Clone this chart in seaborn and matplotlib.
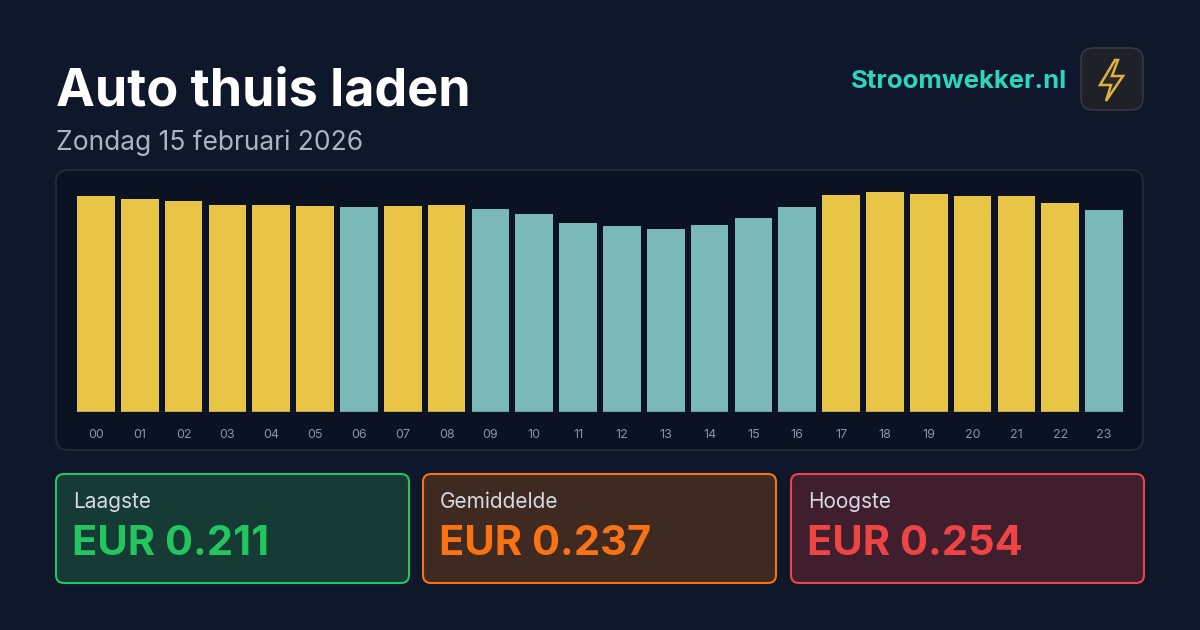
import matplotlib
matplotlib.use("Agg")
import matplotlib.pyplot as plt
import seaborn as sns
import pandas as pd
from matplotlib.patches import FancyBboxPatch, Polygon

hours = [f"{h:02d}" for h in range(24)]
prices = [0.249, 0.246, 0.2435, 0.239, 0.239, 0.238, 0.2365, 0.238, 0.239, 0.234, 0.2285, 0.218,
          0.2145, 0.211, 0.216, 0.224, 0.2365, 0.250, 0.254, 0.2515, 0.249, 0.249, 0.241, 0.233]
expensive = [1,1,1,1,1,1,0,1,1,0,0,0,0,0,0,0,0,1,1,1,1,1,1,0]
title = "Auto thuis laden"
subtitle = "Zondag 15 februari 2026"
brand = "Stroomwekker.nl"
card_labels = ["Laagste", "Gemiddelde", "Hoogste"]
card_values = ["EUR 0.211", "EUR 0.237", "EUR 0.254"]

sns.set_theme(style="white")
plt.rcParams['font.family'] = ['Inter', 'DejaVu Sans']
W, H = 1200, 630
fig = plt.figure(figsize=(12, 6.3), dpi=100)
bg = "#0f172a"
fig.patch.set_facecolor(bg)

def box(x, y, w, h, fc, ec, r=10, lw=1.5):
    p = FancyBboxPatch((x / W, 1 - (y + h) / H), w / W, h / H,
                       boxstyle=f"round,pad=0,rounding_size={r / W}",
                       transform=fig.transFigure, fc=fc, ec=ec, lw=lw,
                       mutation_aspect=W / H, zorder=-1)
    fig.patches.append(p)

fig.text(56 / W, 1 - 92 / H, title, color="white", fontsize=37.5, fontweight="bold", va="center")
fig.text(56 / W, 1 - 143 / H, subtitle, color="#aab4c3", fontsize=19, va="center")
fig.text(1067 / W, 1 - 82 / H, brand, color="#2dd4bf", fontsize=18.5, fontweight="bold", va="center", ha="right")
box(1081, 48, 62, 62, "#1f2128", "#3a3d45", r=12, lw=1)
bolt = [(1115, 60), (1100, 85), (1111, 85), (1106, 101), (1123, 76), (1112, 76), (1118, 60)]
fig.patches.append(Polygon([(x / W, 1 - y / H) for x, y in bolt], closed=True,
                           transform=fig.transFigure, fc="#2b2a24", ec="#e0b040", lw=1.8))

box(56, 170, 1087, 280, "#0b1221", "#1e293b", r=12)

ax = fig.add_axes([74 / W, 1 - 412 / H, 1052 / W, 230 / H])
ax.set_zorder(5)
ax.set_facecolor((0, 0, 0, 0))
df = pd.DataFrame({"hour": hours, "price": prices,
                   "kind": ["hi" if e else "lo" for e in expensive]})
sns.barplot(data=df, x="hour", y="price", hue="kind", dodge=False, saturation=1,
            palette={"hi": "#e8c547", "lo": "#7bb8b8"}, width=0.86, ax=ax, legend=False,
            linewidth=0)
ax.set_ylim(0, 0.2655)
ax.set_xlim(-0.5, 23.5)
ax.set_xlabel(""); ax.set_ylabel("")
ax.set_yticks([])
ax.tick_params(axis="x", colors="#8a94a6", labelsize=9, length=0, pad=12)
for s in ax.spines.values():
    s.set_visible(False)
ax.axhline(0, color="#334155", lw=1)

colors = [("#163a34", "#22c55e", "#22c55e"), ("#3f2a22", "#f97316", "#f97316"), ("#3f1f2e", "#ef4444", "#ef4444")]
xs = [56, 423, 791]
for x, lab, val, (fc, ec, tc) in zip(xs, card_labels, card_values, colors):
    box(x, 474, 353, 109, fc, ec, r=8, lw=1.5)
    fig.text((x + 17) / W, 1 - 502 / H, lab, color="#d6dbe3", fontsize=15, va="center")
    fig.text((x + 16) / W, 1 - 544 / H, val, color=tc, fontsize=30, fontweight="bold", va="center")

fig.savefig("out.png", dpi=100, facecolor=bg)
